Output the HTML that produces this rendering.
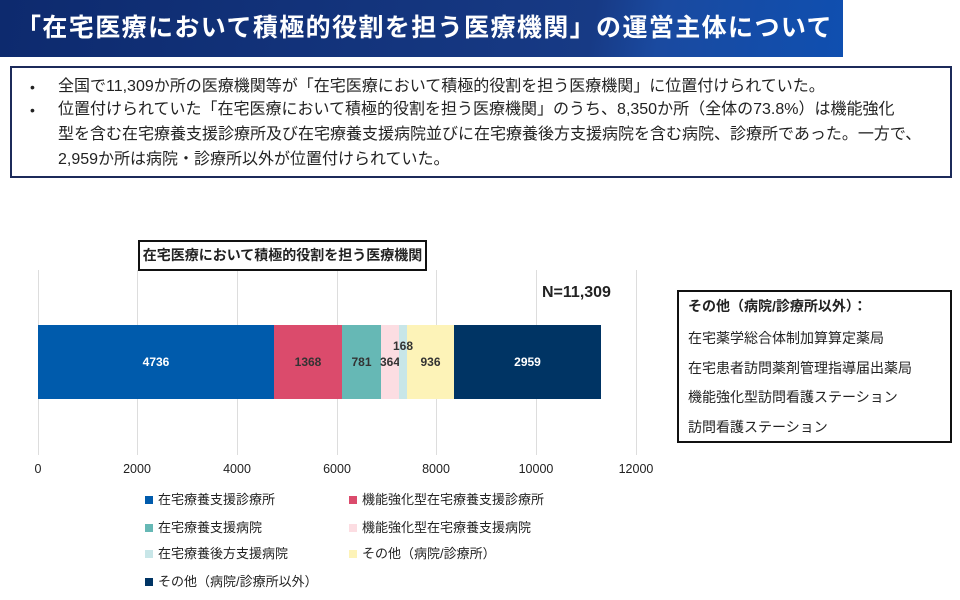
<!DOCTYPE html>
<html><head><meta charset="utf-8"><style>
*{margin:0;padding:0;box-sizing:border-box}
body{width:960px;height:600px;background:#fff;position:relative;overflow:hidden;font-family:"Liberation Sans","Noto Sans CJK JP",sans-serif;color:#222}
.a{position:absolute}
.hdr{left:0;top:0;width:843px;height:57px;background:linear-gradient(100deg,#0d2a6e 0%,#173a85 70%,#1a4aa0 78%,#0f4fb0 100%);color:#fff;font-size:25px;font-weight:bold;line-height:57px;padding-left:16px;letter-spacing:1.4px;white-space:nowrap}
.box{left:10px;top:66px;width:942px;height:112px;border:2px solid #1c2a5a}
.box p{position:absolute;left:46px;font-size:16px;white-space:nowrap;color:#222;line-height:20px}
.bl{position:absolute;left:18px;font-size:14px;line-height:20px}
.grid{top:270px;width:1px;height:185px;background:#ddd}
.tick{top:462px;font-size:12.5px;width:60px;text-align:center;margin-left:-30px}
.seg{top:325px;height:74px;font-size:12px;font-weight:bold;display:flex;align-items:center;justify-content:center}
.lg{font-size:13px;white-space:nowrap;line-height:16px}
.lg i{display:inline-block;width:8px;height:8px;margin-right:5px;vertical-align:0px}
</style></head><body>
<div class="a hdr">「在宅医療において積極的役割を担う医療機関」の運営主体について</div>
<div class="a box">
<div class="bl" style="top:9px">•</div>
<div class="bl" style="top:32px">•</div>
<p style="top:9px">全国で11,309か所の医療機関等が「在宅医療において積極的役割を担う医療機関」に位置付けられていた。</p>
<p style="top:32px">位置付けられていた「在宅医療において積極的役割を担う医療機関」のうち、8,350か所（全体の73.8%）は機能強化</p>
<p style="top:57px">型を含む在宅療養支援診療所及び在宅療養支援病院並びに在宅療養後方支援病院を含む病院、診療所であった。一方で、</p>
<p style="top:82px">2,959か所は病院・診療所以外が位置付けられていた。</p>
</div>
<div class="a grid" style="left:38px"></div><div class="a grid" style="left:137px"></div><div class="a grid" style="left:237px"></div><div class="a grid" style="left:337px"></div><div class="a grid" style="left:436px"></div><div class="a grid" style="left:536px"></div><div class="a grid" style="left:636px"></div>
<div class="a" style="left:138px;top:240px;width:289px;height:31px;border:2px solid #111;font-size:14px;font-weight:bold;text-align:center;line-height:27px;background:#fff;white-space:nowrap">在宅医療において積極的役割を担う医療機関</div>
<div class="a tick" style="left:38px">0</div><div class="a tick" style="left:137px">2000</div><div class="a tick" style="left:237px">4000</div><div class="a tick" style="left:337px">6000</div><div class="a tick" style="left:436px">8000</div><div class="a tick" style="left:536px">10000</div><div class="a tick" style="left:636px">12000</div>
<div class="a" style="left:542px;top:284px;font-size:16px;font-weight:bold">N=11,309</div>
<div class="a seg" style="left:38px;width:236px;background:#005bac;color:#fff">4736</div>
<div class="a seg" style="left:274px;width:68px;background:#db4b6c;color:#333">1368</div>
<div class="a seg" style="left:342px;width:39px;background:#66b8b5;color:#333">781</div>
<div class="a seg" style="left:381px;width:18px;background:#fcdde2;color:#333;overflow:visible">364</div>
<div class="a seg" style="left:399px;width:8px;background:#c8e6e8"></div>
<div class="a seg" style="left:407px;width:47px;background:#fdf3b8;color:#333">936</div>
<div class="a seg" style="left:454px;width:147px;background:#003464;color:#fff">2959</div>
<div class="a" style="left:393px;top:339px;font-size:12px;font-weight:bold;color:#333;z-index:5">168</div>
<div class="a" style="left:677px;top:290px;width:275px;height:153px;border:2px solid #111;font-size:14px;padding-left:9px">
<div style="position:absolute;top:4px;left:9px;font-weight:bold">その他（病院/診療所以外）：</div>
<div style="position:absolute;top:36px;left:9px">在宅薬学総合体制加算算定薬局</div>
<div style="position:absolute;top:66px;left:9px">在宅患者訪問薬剤管理指導届出薬局</div>
<div style="position:absolute;top:95px;left:9px">機能強化型訪問看護ステーション</div>
<div style="position:absolute;top:125px;left:9px">訪問看護ステーション</div>
</div>
<div class="a lg" style="left:145px;top:492px"><i style="background:#005bac"></i>在宅療養支援診療所</div>
<div class="a lg" style="left:349px;top:492px"><i style="background:#db4b6c"></i>機能強化型在宅療養支援診療所</div>
<div class="a lg" style="left:145px;top:520px"><i style="background:#66b8b5"></i>在宅療養支援病院</div>
<div class="a lg" style="left:349px;top:520px"><i style="background:#fcdde2"></i>機能強化型在宅療養支援病院</div>
<div class="a lg" style="left:145px;top:546px"><i style="background:#c8e6e8"></i>在宅療養後方支援病院</div>
<div class="a lg" style="left:349px;top:546px"><i style="background:#fdf3b8"></i>その他（病院/診療所）</div>
<div class="a lg" style="left:145px;top:574px"><i style="background:#003464"></i>その他（病院/診療所以外）</div>
</body></html>
